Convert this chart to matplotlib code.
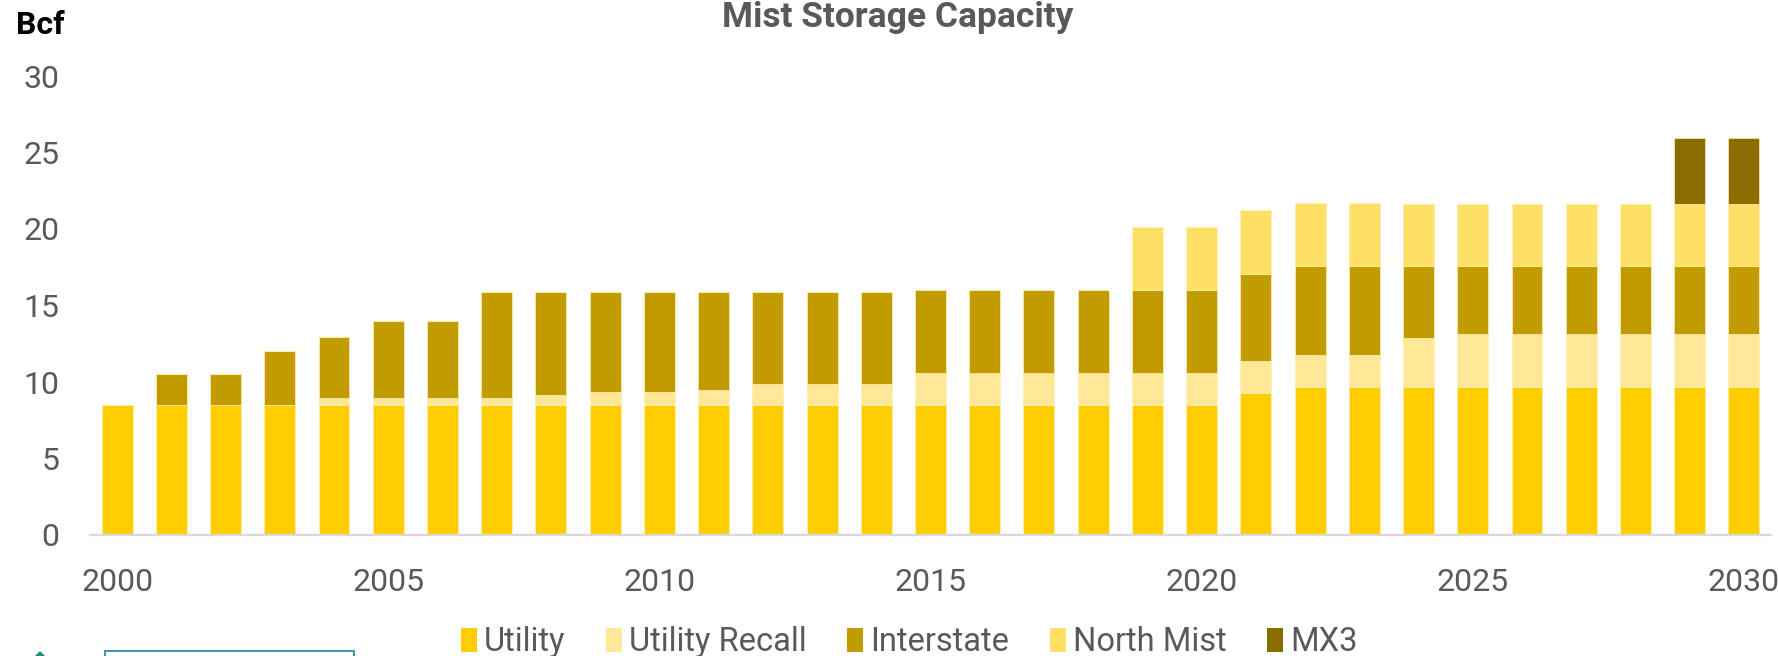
import numpy as np
import matplotlib
matplotlib.use("Agg")
import matplotlib.pyplot as plt
from matplotlib.patches import Patch, Rectangle, Polygon

plt.rcParams['font.family'] = ['Roboto', 'DejaVu Sans']

# ---- data (Bcf) ----
years = list(range(2000, 2031))
utility = [8.5] * 21 + [9.3] + [9.7] * 9
utility_recall = ([0.0] * 4 + [0.45] * 4 + [0.63] + [0.83] * 2 + [1.0] + [1.4] * 3
                  + [2.1] * 6 + [2.05] * 3 + [3.15] + [3.45] * 6)
interstate = ([0.0] + [2.0] * 2 + [3.55] + [4.0] + [5.05] * 2 + [6.9] + [6.73]
              + [6.53] * 2 + [6.4] + [6.0] * 3 + [5.44] * 6 + [5.73] + [5.82] * 2
              + [4.7] + [4.4] * 6)
north_mist = [0.0] * 19 + [4.12] * 2 + [4.14] + [4.1] * 9
mx3 = [0.0] * 29 + [4.33] * 2

series = [
    ("Utility", utility, "#FFCD00"),
    ("Utility Recall", utility_recall, "#FFE999"),
    ("Interstate", interstate, "#C29B00"),
    ("North Mist", north_mist, "#FFE066"),
    ("MX3", mx3, "#8A6C00"),
]

grey = "#595959"

fig = plt.figure(figsize=(17.78, 6.56), dpi=100)
ax = fig.add_axes([90 / 1778, 121 / 656, 1681 / 1778, 459 / 656])

x = np.arange(len(years))
bottom = np.zeros(len(years))
for name, vals, col in series:
    vals = np.array(vals)
    ax.bar(x, vals, width=0.57, bottom=bottom, color=col,
           edgecolor="#FFF0B0", linewidth=0.5, label=name)
    bottom += vals

ax.set_xlim(-0.5, len(years) - 0.5)
ax.set_ylim(0, 30)
ax.set_yticks([0, 5, 10, 15, 20, 25, 30])
xt = [i for i, y in enumerate(years) if y % 5 == 0]
ax.set_xticks(xt)
ax.set_xticklabels([str(years[i]) for i in xt])

for s in ["top", "right", "left"]:
    ax.spines[s].set_visible(False)
ax.spines["bottom"].set_color("#D9D9D9")
ax.spines["bottom"].set_linewidth(1.6)
ax.tick_params(axis="both", length=0, labelsize=23, labelcolor=grey)
ax.tick_params(axis="x", pad=24)
ax.tick_params(axis="y", pad=22)

fig.text(898 / 1778, 1 - 18 / 656, "Mist Storage Capacity", ha="center", va="center",
         fontsize=25.5, fontweight="bold", color=grey)
fig.text(16 / 1778, 1 - 25 / 656, "Bcf", ha="left", va="center",
         fontsize=23, fontweight="bold", color="black")

handles = [Patch(facecolor=c, edgecolor="none") for _, _, c in series]
labels = [n for n, _, _ in series]
fig.legend(handles, labels, loc="center", bbox_to_anchor=(909 / 1778, 14 / 656),
           ncol=5, frameon=False, fontsize=23.5, labelcolor=grey,
           handlelength=0.5, handleheight=0.75, handletextpad=0.2,
           columnspacing=1.25)

# cut-off teal elements at the bottom-left edge
fig.add_artist(Rectangle((105 / 1778, -0.02), 249 / 1778, 0.02 + 5 / 656,
                         transform=fig.transFigure, fill=False,
                         edgecolor="#3C96A6", linewidth=1.4))
fig.add_artist(Polygon([(35 / 1778, 0), (40 / 1778, 5 / 656), (45 / 1778, 0)],
                       closed=True, transform=fig.transFigure,
                       facecolor="#1E8A80", edgecolor="none"))

fig.savefig("out.png", dpi=100)
